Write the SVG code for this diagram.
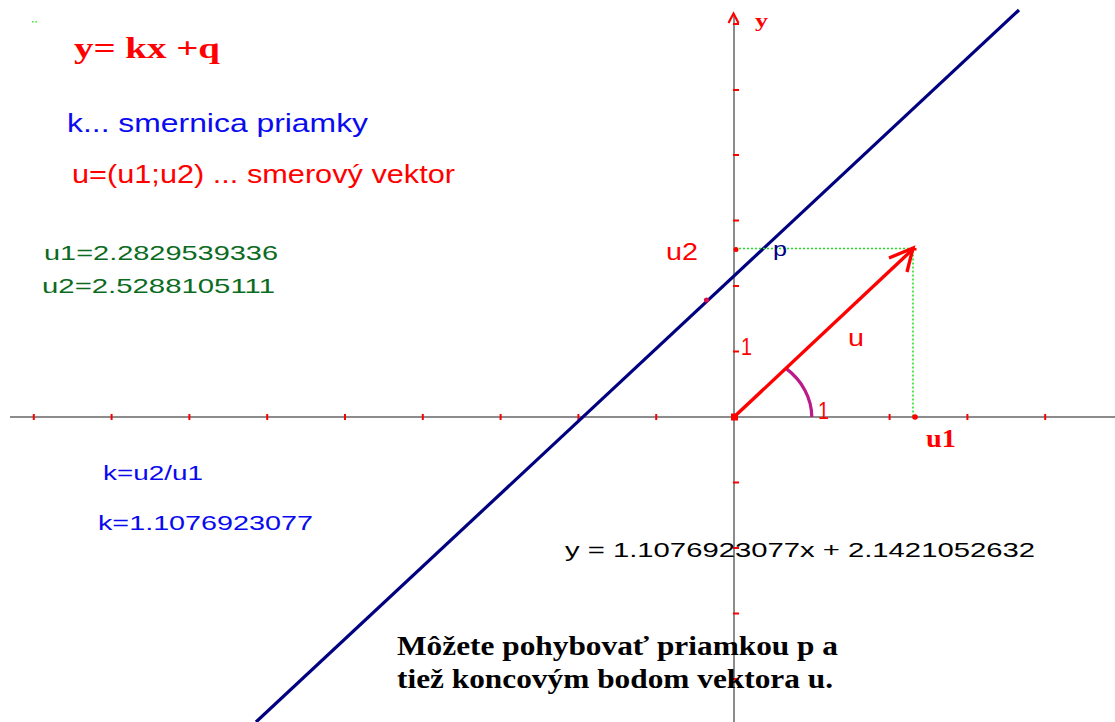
<svg xmlns="http://www.w3.org/2000/svg" width="1115" height="722" viewBox="0 0 1115 722">
<style>
.ax{stroke:#8c8c8c;stroke-width:2;fill:none}
.tk{stroke:#ff0000;stroke-width:2;fill:none}
.sans{font-family:"Liberation Sans",Arial,sans-serif}
.serifb{font-family:"Liberation Serif","Times New Roman",serif;font-weight:bold}
.red{fill:#ff0000}
.blue{fill:#0a0af0}
.green{fill:#0b6b1e}
.dot{stroke:#22e022;stroke-width:1.6;stroke-dasharray:2 2;fill:none}
</style>
<rect width="1115" height="722" fill="#ffffff"/>
<rect x="32" y="21" width="1.5" height="1.5" fill="#33ee33"/>
<rect x="35.5" y="21" width="1.5" height="1.5" fill="#33ee33"/>
<g id="axes">
<line class="ax" x1="10" y1="417" x2="1115" y2="417"/>
<line class="ax" x1="734" y1="14" x2="734" y2="722"/>
<polyline points="728.5,23 733.5,13.5 738.5,23" fill="none" stroke="#ff0000" stroke-width="2.2"/>
<g id="xticks" class="tk">
<line x1="33.8" y1="414" x2="33.8" y2="420"/><line x1="111.6" y1="414" x2="111.6" y2="420"/>
<line x1="189.4" y1="414" x2="189.4" y2="420"/><line x1="267.2" y1="414" x2="267.2" y2="420"/>
<line x1="345" y1="414" x2="345" y2="420"/><line x1="422.8" y1="414" x2="422.8" y2="420"/>
<line x1="500.6" y1="414" x2="500.6" y2="420"/><line x1="578.4" y1="414" x2="578.4" y2="420"/>
<line x1="656.2" y1="414" x2="656.2" y2="420"/><line x1="889.6" y1="414" x2="889.6" y2="420"/>
<line x1="967.4" y1="414" x2="967.4" y2="420"/><line x1="1045.2" y1="414" x2="1045.2" y2="420"/>
</g>
<g id="yticks" class="tk">
<line x1="733" y1="24" x2="739" y2="24"/><line x1="733" y1="90" x2="739" y2="90"/>
<line x1="733" y1="155" x2="739" y2="155"/><line x1="733" y1="220.5" x2="739" y2="220.5"/>
<line x1="733" y1="286" x2="739" y2="286"/><line x1="733" y1="351.5" x2="739" y2="351.5"/>
<line x1="733" y1="482.5" x2="739" y2="482.5"/><line x1="733" y1="548" x2="739" y2="548"/>
<line x1="733" y1="613.5" x2="739" y2="613.5"/><line x1="733" y1="679" x2="739" y2="679"/>
</g>
<text class="serifb red" x="755" y="27" font-size="19" textLength="13" lengthAdjust="spacingAndGlyphs">y</text>
</g>
<g id="connectors">
<line id="line-p" x1="256" y1="722" x2="1019" y2="10" stroke="#000080" stroke-width="3.2"/>
<polyline class="dot" points="735,248.5 913,248.5 913,417"/>
<path d="M786,368.4 A77.8,65.5 0 0 1 811.8,417" fill="none" stroke="#bb1a8a" stroke-width="3.2"/>
<line id="vector-u" x1="734" y1="417" x2="912" y2="250" stroke="#ff0000" stroke-width="3.4"/>
<polyline points="889,258 913,248 907,272" fill="none" stroke="#ff0000" stroke-width="3.4" stroke-linejoin="miter"/>
</g>
<g id="points">
<rect x="731" y="413.5" width="7" height="7" fill="#ff0000"/>
<circle cx="736" cy="249.5" r="2.5" fill="#ff0000"/>
<circle cx="915" cy="417" r="2.8" fill="#ff0000"/>
<circle cx="706.5" cy="300" r="2.6" fill="#d8104a"/>
<rect x="914" y="248" width="2.5" height="2.5" fill="#ff0000"/>
</g>
<g id="labels">
<text class="sans" x="773" y="256" font-size="20" fill="#000080" textLength="14" lengthAdjust="spacingAndGlyphs">p</text>
<text class="sans red" x="666" y="260" font-size="24" textLength="32" lengthAdjust="spacingAndGlyphs">u2</text>
<text class="sans red" x="848" y="346" font-size="24" textLength="16" lengthAdjust="spacingAndGlyphs">u</text>
<text class="sans red" x="741" y="355" font-size="23" textLength="11" lengthAdjust="spacingAndGlyphs">1</text>
<text class="sans red" x="818" y="419" font-size="23" textLength="11" lengthAdjust="spacingAndGlyphs">1</text>
<text class="serifb red" x="926" y="447" font-size="25" textLength="30" lengthAdjust="spacingAndGlyphs">u1</text>
</g>
<g id="texts">
<text class="serifb red" x="74" y="58" font-size="29" textLength="146" lengthAdjust="spacingAndGlyphs">y= kx +q</text>
<text class="sans blue" x="67" y="132" font-size="26" textLength="301" lengthAdjust="spacingAndGlyphs">k... smernica priamky</text>
<text class="sans red" x="72" y="183" font-size="26" textLength="383" lengthAdjust="spacingAndGlyphs">u=(u1;u2) ... smerový vektor</text>
<text class="sans green" x="44" y="260" font-size="21" textLength="234" lengthAdjust="spacingAndGlyphs">u1=2.2829539336</text>
<text class="sans green" x="42" y="293" font-size="21" textLength="233" lengthAdjust="spacingAndGlyphs">u2=2.5288105111</text>
<text class="sans blue" x="103" y="480" font-size="20" textLength="100" lengthAdjust="spacingAndGlyphs">k=u2/u1</text>
<text class="sans blue" x="98" y="530" font-size="20" textLength="215" lengthAdjust="spacingAndGlyphs">k=1.1076923077</text>
<text class="sans" x="565" y="557" font-size="21" fill="#000000" textLength="470" lengthAdjust="spacingAndGlyphs">y = 1.1076923077x + 2.1421052632</text>
<text class="serifb" x="397" y="655" font-size="27" fill="#000000" textLength="441" lengthAdjust="spacingAndGlyphs">Môžete pohybovať priamkou p a</text>
<text class="serifb" x="397" y="688" font-size="27" fill="#000000" textLength="436" lengthAdjust="spacingAndGlyphs">tiež koncovým bodom vektora u.</text>
</g>
</svg>
